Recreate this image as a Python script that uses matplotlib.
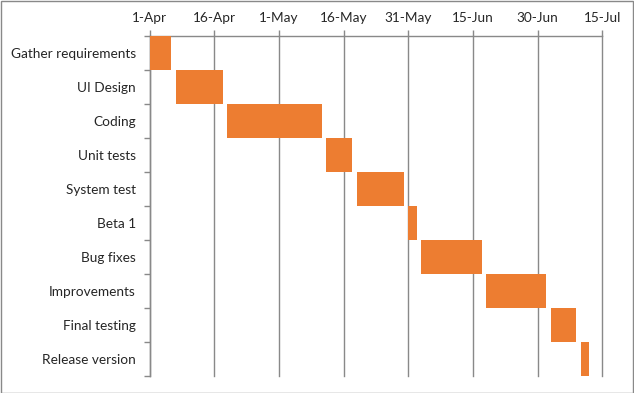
import datetime as dt
import matplotlib
matplotlib.use('Agg')
import matplotlib.pyplot as plt
import matplotlib.dates as mdates
from matplotlib.patches import Rectangle

# task data (start offset in days from 1-Apr, duration in days)
tasks = ['Gather requirements', 'UI Design', 'Coding', 'Unit tests', 'System test',
         'Beta 1', 'Bug fixes', 'Improvements', 'Final testing', 'Release version']
start_offsets = [0, 6, 18, 41, 48, 60, 63, 78, 93, 100]
durations = [5, 11, 22, 6, 11, 2, 14, 14, 6, 2]

base = dt.date(2015, 4, 1)
end = dt.date(2015, 7, 15)

plt.rcParams['font.family'] = ['Lato', 'DejaVu Sans']

fig = plt.figure(figsize=(6.34, 3.93), dpi=100)
ax = fig.add_axes([149.7 / 634, 1 - 375.5 / 393, (602.3 - 149.7) / 634, (375.5 - 36) / 393])

starts = [mdates.date2num(base + dt.timedelta(days=s)) for s in start_offsets]
ypos = list(range(len(tasks)))
ax.barh(ypos, durations, left=starts, height=1.0, color='#ED7D31', zorder=3)

ax.set_xlim(mdates.date2num(base), mdates.date2num(end))
ax.set_ylim(len(tasks) - 0.5, -0.5)

ticks = [mdates.date2num(base + dt.timedelta(days=15 * i)) for i in range(8)]
ax.set_xticks(ticks)
ax.xaxis.set_major_formatter(mdates.DateFormatter('%-d-%b'))
ax.xaxis.tick_top()
ax.tick_params(axis='x', which='major', length=4, width=1, color='#898989',
               labelsize=9.8, labelcolor='#262626', pad=5)
ax.grid(axis='x', color='#898989', linewidth=1, zorder=0)
for gl in ax.get_xgridlines():
    gl.set_clip_on(False)

ax.set_yticks(ypos)
ax.set_yticklabels(tasks)
ax.set_yticks([i - 0.5 for i in range(len(tasks) + 1)], minor=True)
ax.tick_params(axis='y', which='major', length=0, labelsize=9.8, labelcolor='#262626', pad=10)
ax.tick_params(axis='y', which='minor', length=4, width=1, color='#898989')

for side in ['right', 'bottom']:
    ax.spines[side].set_visible(False)
for side in ['top', 'left']:
    ax.spines[side].set_color('#898989')
    ax.spines[side].set_linewidth(1)

fig.patches.append(Rectangle((0.5 / 634, 0.5 / 393), 632.5 / 634, 391.5 / 393,
                             transform=fig.transFigure, fill=False,
                             edgecolor='#898989', linewidth=1))

fig.savefig('out.png', dpi=100)
